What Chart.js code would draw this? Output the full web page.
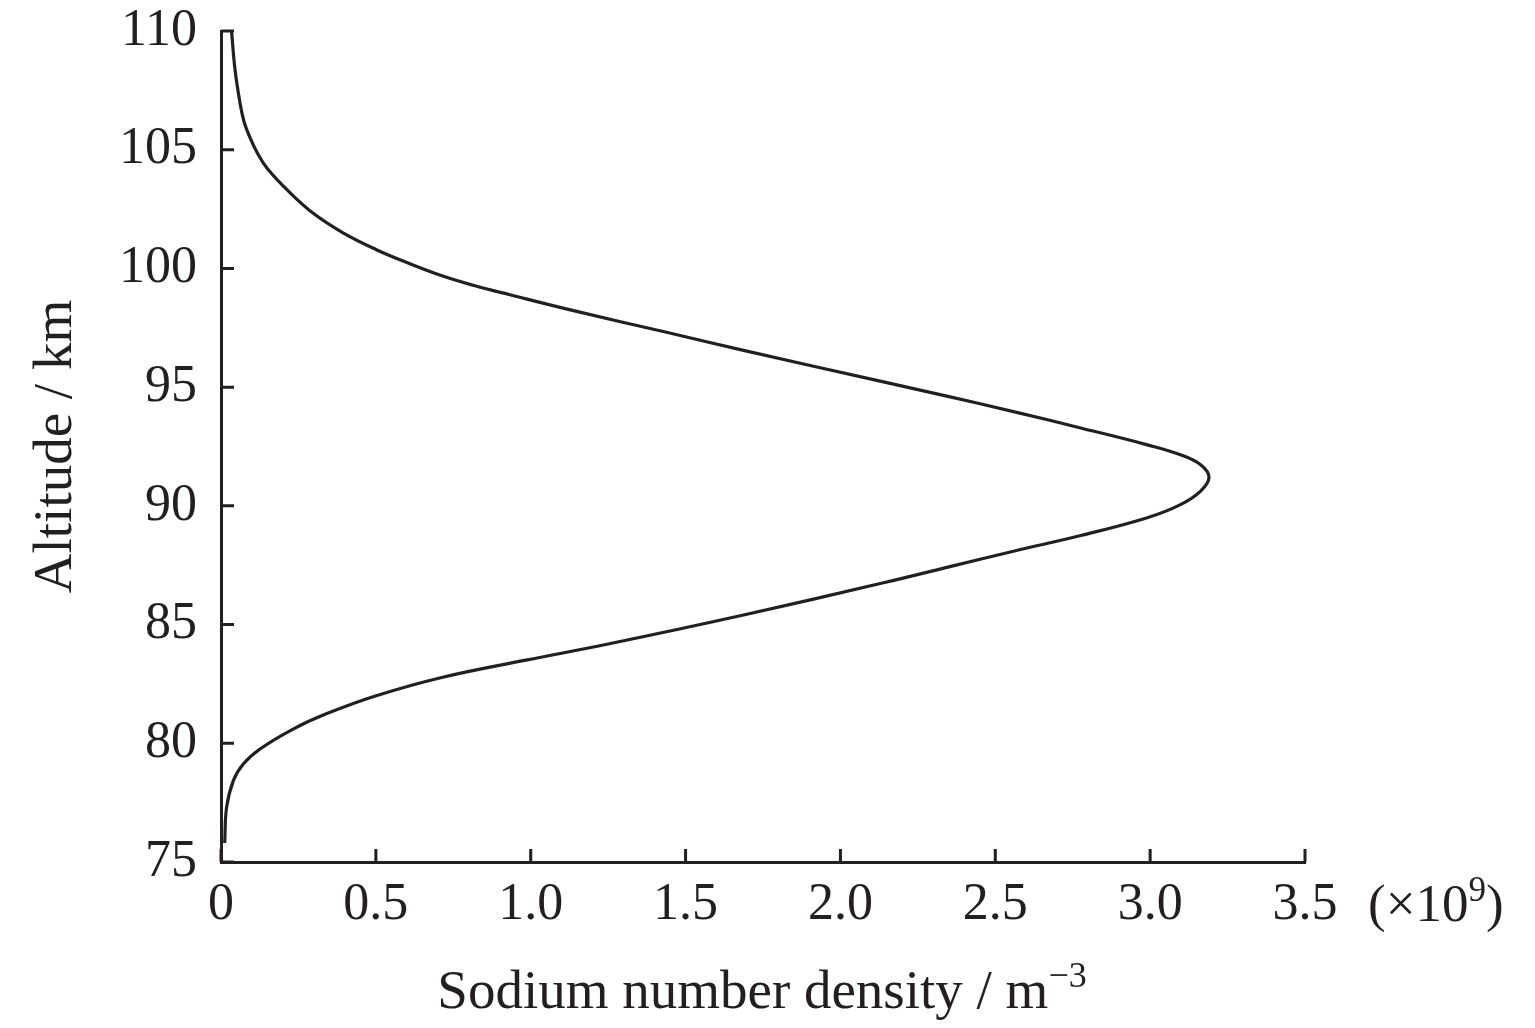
<!DOCTYPE html>
<html>
<head>
<meta charset="utf-8">
<script src="https://cdn.jsdelivr.net/npm/chart.js@4.4.1/dist/chart.umd.min.js"></script>
<style>
  html, body { margin: 0; padding: 0; background: #fff; }
  #wrap { width: 1535px; height: 1028px; }
</style>
</head>
<body>
<div id="wrap"><canvas id="naChart" width="1535" height="1028"></canvas></div>
<script>
// Sodium layer profile, density in units of 1e9 m^-3
const densityE9 = [0.034, 0.045, 0.061, 0.074, 0.094, 0.12, 0.15, 0.222, 0.30, 0.394, 0.50, 0.60,
  0.716, 0.82, 0.93, 1.145, 1.435, 1.68, 2.139, 2.347, 2.562, 2.776, 2.991, 3.098, 3.163, 3.19,
  3.163, 3.098, 2.991, 2.776, 2.562, 2.347, 2.139, 1.68, 1.25, 0.984, 0.716, 0.501, 0.34, 0.233,
  0.126, 0.072, 0.04, 0.018, 0.012];
const altitudeKm = [110, 108.4, 107.0, 106.2, 105.5, 104.8, 104.2, 103.2, 102.3, 101.5, 100.8, 100.25,
  99.68, 99.27, 98.9, 98.2, 97.32, 96.57, 95.22, 94.61, 93.96, 93.28, 92.57, 92.15, 91.73, 91.2,
  90.62, 90.05, 89.5, 88.75, 88.1, 87.42, 86.76, 85.38, 84.18, 83.5, 82.78, 82.0, 81.24, 80.6,
  79.76, 79.13, 78.43, 77.3, 75.8];

const xTickLabels = ['0', '0.5', '1.0', '1.5', '2.0', '2.5', '3.0', '3.5'];
const yTickLabels = ['75', '80', '85', '90', '95', '100', '105', '110'];

const ink = '#231f20';
const serif = "'Liberation Serif', 'Times New Roman', serif";
const tickLen = 13;

// draws a string made of normal and superscript pieces
function drawParts(ctx, parts, x, y, size, align) {
  const supSize = Math.round(size * 0.66);
  let total = 0;
  parts.forEach(p => {
    ctx.font = (p.sup ? supSize : size) + 'px ' + serif;
    p.w = ctx.measureText(p.t).width;
    total += p.w;
  });
  let cx = align === 'center' ? x - total / 2 : x;
  ctx.textAlign = 'left';
  ctx.textBaseline = 'alphabetic';
  parts.forEach(p => {
    ctx.font = (p.sup ? supSize : size) + 'px ' + serif;
    ctx.fillText(p.t, cx, p.sup ? y - size * 0.38 : y);
    cx += p.w;
  });
}

const extraMarks = {
  id: 'extraMarks',
  afterDraw(chart) {
    const {ctx, chartArea, scales: {x, y}} = chart;
    ctx.save();
    ctx.strokeStyle = ink;
    ctx.lineWidth = 3;
    ctx.beginPath();
    // inward tick marks
    x.ticks.forEach(t => {
      const px = x.getPixelForValue(t.value);
      ctx.moveTo(px, chartArea.bottom);
      ctx.lineTo(px, chartArea.bottom - tickLen);
    });
    y.ticks.forEach(t => {
      const py = y.getPixelForValue(t.value);
      ctx.moveTo(chartArea.left, py);
      ctx.lineTo(chartArea.left + tickLen, py);
    });
    ctx.stroke();

    ctx.fillStyle = ink;
    // multiplier next to the last x label
    drawParts(ctx, [{t: '(\u00d710'}, {t: '9', sup: true}, {t: ')'}], 1368, 921, 53, 'left');
    // x axis title
    drawParts(ctx, [{t: 'Sodium number density / m'}, {t: '\u22123', sup: true}], 762, 1008, 55, 'center');
    ctx.restore();
  }
};

const ctx = document.getElementById('naChart').getContext('2d');
const chart = new Chart(ctx, {
  type: 'scatter',
  data: {
    datasets: [{
      data: densityE9.map((d, i) => ({x: d, y: altitudeKm[i]})),
      showLine: true,
      borderColor: ink,
      borderWidth: 3.2,
      pointRadius: 0,
      tension: 0.4,
      fill: false
    }]
  },
  options: {
    responsive: false,
    animation: false,
    layout: {
      padding: {left: 0, top: 31, right: 230, bottom: 0}
    },
    plugins: {
      legend: {display: false},
      tooltip: {enabled: false}
    },
    scales: {
      x: {
        type: 'linear',
        min: 0,
        max: 3.5,
        afterFit: s => { s.height = 166; s.paddingLeft = 0; s.paddingRight = 0; },
        grid: {display: false, drawTicks: false},
        border: {display: true, color: ink, width: 3},
        ticks: {
          stepSize: 0.5,
          autoSkip: false,
          maxRotation: 0,
          padding: 12,
          color: ink,
          font: {family: serif, size: 52},
          callback: (v, i) => xTickLabels[i]
        }
      },
      y: {
        type: 'linear',
        min: 75,
        max: 110,
        afterFit: s => { s.width = 221; s.paddingTop = 0; s.paddingBottom = 0; },
        grid: {display: false, drawTicks: false},
        border: {display: true, color: ink, width: 3},
        title: {
          display: true,
          text: 'Altitude / km',
          color: ink,
          font: {family: serif, size: 55},
          padding: {top: 24}
        },
        ticks: {
          stepSize: 5,
          padding: 24,
          color: ink,
          font: {family: serif, size: 52},
          callback: (v, i) => yTickLabels[i]
        }
      }
    }
  },
  plugins: [extraMarks]
});
</script>
</body>
</html>
